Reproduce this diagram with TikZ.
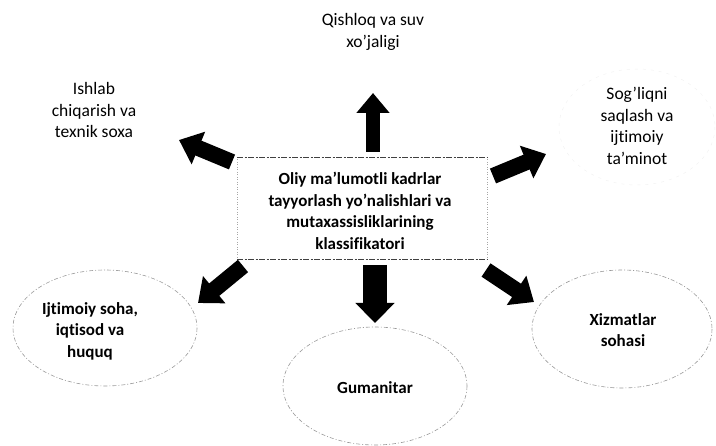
\documentclass[tikz,border=0pt]{standalone}
\usepackage{fontspec}
\setmainfont{Carlito}[Ligatures={NoCommon}]
\usetikzlibrary{arrows.meta}
\tikzset{
  lbl/.style={align=center,font=\fontsize{17}{21.5}\selectfont\bfseries},
  toplbl/.style={align=center,font=\fontsize{17.5}{21.5}\selectfont},
  oval/.style={draw=black!40,line width=0.6pt,dash pattern=on 4pt off 2pt on 1pt off 2pt},
  faintoval/.style={draw=black!5,line width=0.5pt,dash pattern=on 3pt off 5pt},
  bigarrow/.style={line width=#1,-{Triangle[width=34pt,length=21pt]}},
}
\begin{document}
\begin{tikzpicture}[x=1pt,y=-1pt]
  \useasboundingbox (0,0) rectangle (716,446);
  % central box
  \draw [black!35,line width=0.5pt,dash pattern=on 1pt off 1.5pt] (237,157) -- (237,259);
  \draw [black!35,line width=0.5pt,dash pattern=on 1pt off 1.5pt] (487,157) -- (487,259);
  \draw [black!75,line width=0.7pt,dash pattern=on 6pt off 1.5pt on 2pt off 1.5pt] (237,157) -- (487,157);
  \draw [black!75,line width=0.7pt,dash pattern=on 6pt off 1.5pt on 2pt off 1.5pt] (237,259) -- (487,259);
  \node [lbl] (centre) at (360,211) {Oliy ma'lumotli kadrlar\\tayyorlash yo'nalishlari va\\mutaxassisliklarining\\klassifikatori};
  % ovals
  \draw [oval] (105,328) ellipse (92 and 58);
  \draw [oval] (375,386) ellipse (92 and 59);
  \draw [oval] (622,329) ellipse (90 and 59);
  \draw [faintoval] (637,127) ellipse (78 and 58);
  % labels
  \node [toplbl] (qishloq) at (373,32) {Qishloq va suv\\xo'jaligi};
  \node [toplbl] (ishlab) at (94,110) {Ishlab\\chiqarish va\\texnik soxa};
  \node [toplbl] (sogliq) at (637,126) {Sog'liqni\\saqlash va\\ijtimoiy\\ta'minot};
  \node [lbl] (ijtimoiy) at (90,331) {Ijtimoiy soha,\\iqtisod va\\huquq};
  \node [lbl] (gumanitar) at (375,388) {Gumanitar};
  \node [lbl] (xizmat) at (623,330) {Xizmatlar\\sohasi};
  % arrow ends
  \coordinate (t0) at (373,152);  \coordinate (t1) at (373,93);
  \coordinate (b0) at (375,265);  \coordinate (b1) at (375,323);
  \coordinate (tl0) at (232,162); \coordinate (tl1) at (179,140);
  \coordinate (tr0) at (493,176); \coordinate (tr1) at (546,154);
  \coordinate (bl0) at (243,266); \coordinate (bl1) at (198,303);
  \coordinate (br0) at (486,270); \coordinate (br1) at (534,302);
  \draw [line width=14pt,-{Triangle[width=32pt,length=20pt]}] (t0) -- (t1);
  \draw [line width=24pt,-{Triangle[width=38pt,length=20pt]}] (b0) -- (b1);
  \draw [bigarrow=16pt] (tl0) -- (tl1);
  \draw [bigarrow=16pt] (tr0) -- (tr1);
  \draw [bigarrow=16pt] (bl0) -- (bl1);
  \draw [bigarrow=16pt] (br0) -- (br1);
\end{tikzpicture}
\end{document}
